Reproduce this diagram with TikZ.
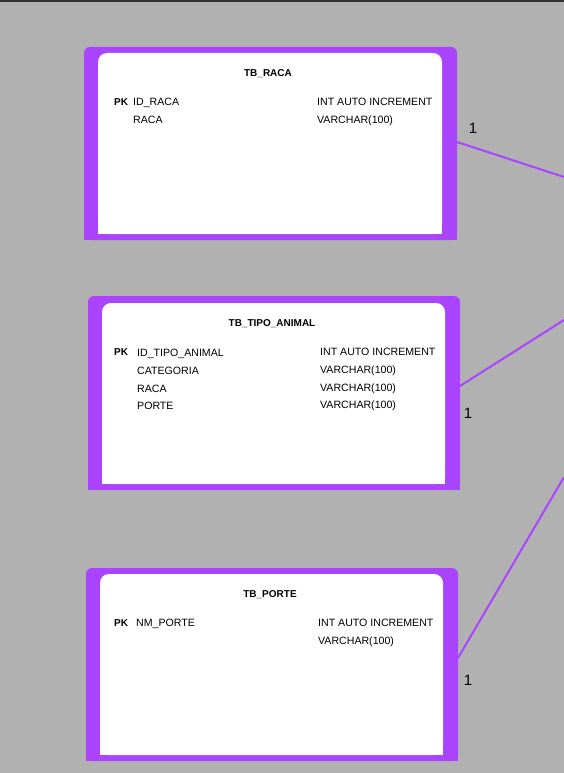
\documentclass[tikz,border=0pt]{standalone}
\usepackage{fontspec}
\setmainfont{Liberation Sans}
\definecolor{pur}{HTML}{AA44FF}
\definecolor{bg}{HTML}{B1B1B1}
\definecolor{topbar}{HTML}{333333}
\begin{document}
\begin{tikzpicture}[x=1pt,y=-1pt,
  outerbox/.style={rectangle,fill=pur,rounded corners=6pt,inner sep=0pt,outer sep=0pt},
  innerbox/.style={rectangle,fill=white,rounded corners=9pt,inner sep=0pt,outer sep=0pt},
  ttl/.style={anchor=base,inner sep=0pt,font=\fontsize{10}{12}\selectfont\bfseries},
  pk/.style={anchor=base west,inner sep=0pt,font=\fontsize{10}{12}\selectfont\bfseries},
  fld/.style={anchor=base west,inner sep=0pt,font=\fontsize{10.6}{12}\selectfont},
  card/.style={anchor=center,inner sep=0pt,font=\fontsize{15}{18}\selectfont},
  rel/.style={draw=pur,line width=2pt}]
\useasboundingbox (0,0) rectangle (564,773);
\fill[bg] (0,0) rectangle (564,773);
\fill[topbar] (0,0) rectangle (564,2);

% ---------- TB_RACA ----------
\node[outerbox,minimum width=373pt,minimum height=193pt] (raca) at (270.5,143.5) {};
\fill[pur] (raca.west) rectangle (raca.south east);
\node[innerbox,minimum width=344pt,minimum height=181pt] (racain) at (270,143.5) {};
\fill[white] (racain.west) rectangle (racain.south east);
\node[ttl] (racat) at (268,77) {TB\_RACA};
\node[pk] (racapk) at (114,105.5) {PK};
\node[fld] (racaf1) at (133,106) {ID\_RACA};
\node[fld] (racaf2) at (133,124) {RACA};
\node[fld] (racat1) at (317,106) {INT AUTO INCREMENT};
\node[fld] (racat2) at (317,124) {VARCHAR(100)};

% ---------- TB_TIPO_ANIMAL ----------
\node[outerbox,minimum width=372pt,minimum height=194pt] (tipo) at (274,393) {};
\fill[pur] (tipo.west) rectangle (tipo.south east);
\node[innerbox,minimum width=343pt,minimum height=181pt] (tipoin) at (273.5,393.5) {};
\fill[white] (tipoin.west) rectangle (tipoin.south east);
\node[ttl] (tipot) at (272,326) {TB\_TIPO\_ANIMAL};
\node[pk] (tipopk) at (114,355.5) {PK};
\node[fld] (tipof1) at (137,356.5) {ID\_TIPO\_ANIMAL};
\node[fld] (tipof2) at (137,374.5) {CATEGORIA};
\node[fld] (tipof3) at (137,392) {RACA};
\node[fld] (tipof4) at (137,409.5) {PORTE};
\node[fld] (tipot1) at (320,355) {INT AUTO INCREMENT};
\node[fld] (tipot2) at (320,373) {VARCHAR(100)};
\node[fld] (tipot3) at (320,391) {VARCHAR(100)};
\node[fld] (tipot4) at (320,408.5) {VARCHAR(100)};

% ---------- TB_PORTE ----------
\node[outerbox,minimum width=372pt,minimum height=193pt] (porte) at (272,664.5) {};
\fill[pur] (porte.west) rectangle (porte.south east);
\node[innerbox,minimum width=343pt,minimum height=181pt] (portein) at (271.5,664.5) {};
\fill[white] (portein.west) rectangle (portein.south east);
\node[ttl] (portet) at (270,597) {TB\_PORTE};
\node[pk] (portepk) at (114,626.5) {PK};
\node[fld] (portef1) at (136,626.5) {NM\_PORTE};
\node[fld] (portet1) at (318,626.5) {INT AUTO INCREMENT};
\node[fld] (portet2) at (318,644) {VARCHAR(100)};

% ---------- connectors ----------
\coordinate (e1) at (564,177);
\coordinate (e2) at (564,320);
\coordinate (e3) at (564,477);
\draw[rel] ([yshift=1.5pt]raca.east) -- (e1);
\draw[rel] ([yshift=7pt]tipo.east) -- (e2);
\draw[rel] ([yshift=6.5pt]porte.east) -- (e3);

\node[card] (c1) at (473,128) {1};
\node[card] (c2) at (468,413) {1};
\node[card] (c3) at (468,680) {1};
\end{tikzpicture}
\end{document}
